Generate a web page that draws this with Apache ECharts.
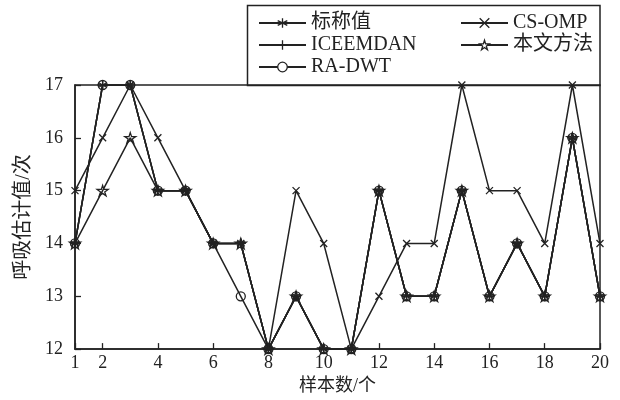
<!DOCTYPE html>
<html>
<head>
<meta charset="utf-8">
<script src="https://cdn.jsdelivr.net/npm/echarts@6/dist/echarts.min.js"></script>
<style>
  html, body { margin: 0; padding: 0; background: #fff; }
  #chart { width: 620px; height: 400px; }
</style>
</head>
<body>
<div id="chart"></div>
<script>
// Sample index (1..20) and breathing-rate estimates per method
const samples = [1,2,3,4,5,6,7,8,9,10,11,12,13,14,15,16,17,18,19,20];
const nominal  = [14,17,17,15,15,14,14,12,13,12,12,15,13,13,15,13,14,13,16,13];
const csOmp    = [15,16,17,16,15,14,14,12,15,14,12,13,14,14,17,15,15,14,17,14];
const iceemdan = [14,17,17,15,15,14,14,12,13,12,12,15,13,13,15,13,14,13,16,13];
const raDwt    = [14,17,17,15,15,14,13,12,13,12,12,15,13,13,15,13,14,13,16,13];
const proposed = [14,15,16,15,15,14,14,12,13,12,12,15,13,13,15,13,14,13,16,13];

const ink = '#222';
const serif = '"Liberation Serif", "Times New Roman", "Noto Sans CJK SC", serif';

const SYM = {
  asterisk: 'path://M0,-1L0,1M-0.866,-0.5L0.866,0.5M-0.866,0.5L0.866,-0.5',
  cross: 'path://M-1,-1L1,1M-1,1L1,-1',
  plus: 'path://M0,-1L0,1M-1,0L1,0',
  star: 'path://M0,-1L0.2245,-0.309L0.951,-0.309L0.3633,0.118L0.5878,0.809L0,0.382L-0.5878,0.809L-0.3633,0.118L-0.951,-0.309L-0.2245,-0.309Z'
};

function makeSeries(name, data, symbol, size) {
  return {
    name, type: 'line', data,
    symbol, symbolSize: size, symbolKeepAspect: true,
    showAllSymbol: true,
    lineStyle: { color: ink, width: 1.5 },
    itemStyle: { color: 'transparent', borderColor: ink, borderWidth: 1.3 },
    emphasis: { disabled: true },
    animation: false
  };
}

const chart = echarts.init(document.getElementById('chart'), null, { renderer: 'canvas' });
const showTick = (idx) => idx === 0 || (idx + 1) % 2 === 0;

const legendBase = {
  top: 8, orient: 'vertical', itemWidth: 47, itemHeight: 12, itemGap: 2,
  textStyle: { fontFamily: serif, fontSize: 20, color: ink },
  itemStyle: { color: '#fff', borderColor: ink, borderWidth: 1.3 },
  selectedMode: false
};

chart.setOption({
  backgroundColor: '#fff',
  animation: false,
  grid: { left: 75, right: 20, top: 85, bottom: 49, show: true, borderColor: ink, borderWidth: 1.5 },
  legend: [
    Object.assign({ left: 253, data: ['标称值', 'ICEEMDAN', 'RA-DWT'] }, legendBase),
    Object.assign({ left: 455, data: ['CS-OMP', '本文方法'] }, legendBase)
  ],
  graphic: [{
    type: 'rect', z: 100,
    shape: { x: 247.5, y: 5.5, width: 352.5, height: 80 },
    style: { fill: 'none', stroke: ink, lineWidth: 1.5 }
  }],
  xAxis: {
    type: 'category', data: samples, boundaryGap: false,
    name: '样本数/个', nameLocation: 'middle', nameGap: 23,
    nameTextStyle: { fontFamily: serif, fontSize: 18, color: ink },
    axisLine: { lineStyle: { color: ink, width: 1.5 } },
    axisTick: { inside: true, length: 6, interval: showTick, lineStyle: { color: ink, width: 1.3 } },
    axisLabel: { interval: showTick, fontFamily: serif, fontSize: 18, color: ink, margin: 5 },
    splitLine: { show: false }
  },
  yAxis: {
    type: 'value', min: 12, max: 17, interval: 1,
    name: '呼吸估计值/次', nameLocation: 'middle', nameGap: 36,
    nameTextStyle: { fontFamily: serif, fontSize: 20, color: ink },
    axisLine: { show: true, lineStyle: { color: ink, width: 1.5 } },
    axisTick: { show: true, inside: true, length: 6, lineStyle: { color: ink, width: 1.3 } },
    axisLabel: { fontFamily: serif, fontSize: 18, color: ink, margin: 12 },
    splitLine: { show: false }
  },
  series: [
    makeSeries('本文方法', proposed, SYM.star, 11),
    makeSeries('RA-DWT', raDwt, 'circle', 9),
    makeSeries('CS-OMP', csOmp, SYM.cross, 7),
    makeSeries('ICEEMDAN', iceemdan, SYM.plus, 10),
    makeSeries('标称值', nominal, SYM.asterisk, 9)
  ]
});
</script>
</body>
</html>
